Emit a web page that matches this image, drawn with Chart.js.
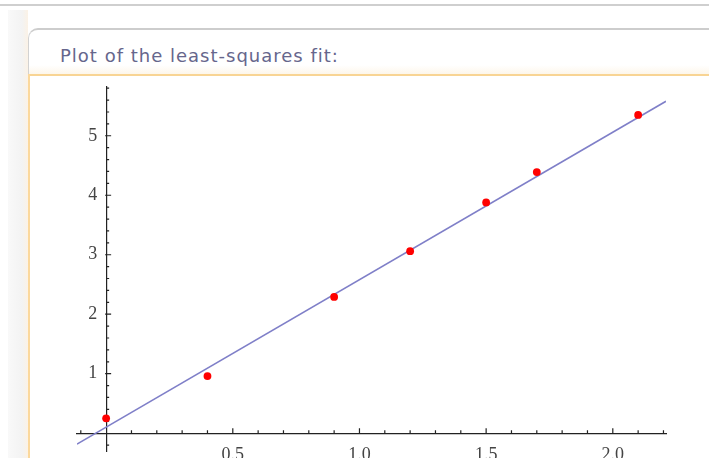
<!DOCTYPE html>
<html>
<head>
<meta charset="utf-8">
<script src="https://cdn.jsdelivr.net/npm/chart.js@4/dist/chart.umd.min.js"></script>
<style>
  html, body { margin: 0; padding: 0; background: #fff; }
  body { width: 709px; height: 458px; overflow: hidden; position: relative; }
  .topline { position: absolute; left: 0; top: 4px; width: 709px; height: 2px; background: #cfcfcf; }
  .strip { position: absolute; left: 8px; top: 10px; width: 20px; height: 470px;
           background: linear-gradient(to right, #f9f9f9, #f3f3f3 70%, #fbf2e6); }
  .head { position: absolute; left: 28px; top: 28px; width: 700px; height: 46px;
          border-top: 2px solid #cdcdcd; border-left: 1px solid #d2d2d2; border-top-left-radius: 10px;
          background: linear-gradient(to bottom, #ffffff 80%, #fdf6ea); box-sizing: border-box; }
  .orange { position: absolute; left: 28px; top: 74px; width: 700px; height: 2px; background: #f8d494; }
  .orangeLeft { position: absolute; left: 28px; top: 74px; width: 2px; height: 400px; background: #fbd89c; }
  .title { position: absolute; left: 60px; top: 45px; font-family: "DejaVu Sans", sans-serif;
           font-size: 18px; letter-spacing: 1px; color: #66668c; white-space: nowrap; }
  #wrap { position: absolute; left: 0; top: 0; width: 709px; height: 480px; }
</style>
</head>
<body>
<div class="topline"></div>
<div class="strip"></div>
<div class="head"></div>
<div class="orange"></div>
<div class="orangeLeft"></div>
<div class="title">Plot of the least-squares fit:</div>
<div id="wrap"><canvas id="c" width="709" height="480"></canvas></div>
<script>
// ---- data ----
const xValues = [0, 0.4, 0.9, 1.2, 1.5, 1.7, 2.1];
const yValues = [0.25, 0.96, 2.29, 3.06, 3.88, 4.39, 5.35];
const fitX = [-0.115, 2.21];
const fitY = [-0.185, 5.58];
const xTickLabels = ['0.5', '1.0', '1.5', '2.0'];
const yTickLabels = ['1', '2', '3', '4', '5'];
const xMinorTicks = [-0.1, 0.1, 0.2, 0.3, 0.4, 0.6, 0.7, 0.8, 0.9, 1.1, 1.2, 1.3, 1.4, 1.6, 1.7, 1.8, 1.9, 2.1, 2.2];
const yMinorTicks = [-0.2, 0.2, 0.4, 0.6, 0.8, 1.2, 1.4, 1.6, 1.8, 2.2, 2.4, 2.6, 2.8, 3.2, 3.4, 3.6, 3.8,
                     4.2, 4.4, 4.6, 4.8, 5.2, 5.4, 5.6, 5.8];

const points = xValues.map((x, i) => ({ x: x, y: yValues[i] }));
const fitLine = fitX.map((x, i) => ({ x: x, y: fitY[i] }));

function labelFor(list, value) {
  const s = list.find(l => Math.abs(parseFloat(l) - value) < 1e-6);
  return s === undefined ? '' : s;
}

const tickMarks = {
  id: 'tickMarks',
  beforeDatasetsDraw(chart) {
    const ctx = chart.ctx;
    const xs = chart.scales.x, ys = chart.scales.y;
    const x0 = xs.getPixelForValue(0), y0 = ys.getPixelForValue(0);
    ctx.save();
    ctx.strokeStyle = '#222';
    ctx.lineWidth = 1.2;
    ctx.beginPath();
    xTickLabels.forEach(l => { const p = xs.getPixelForValue(parseFloat(l)); ctx.moveTo(p, y0); ctx.lineTo(p, y0 - 5); });
    xMinorTicks.forEach(v => { const p = xs.getPixelForValue(v); ctx.moveTo(p, y0); ctx.lineTo(p, y0 - 3); });
    yTickLabels.forEach(l => { const p = ys.getPixelForValue(parseFloat(l)); ctx.moveTo(x0 - 1, p); ctx.lineTo(x0 + 5, p); });
    yMinorTicks.forEach(v => { const p = ys.getPixelForValue(v); ctx.moveTo(x0, p); ctx.lineTo(x0 + 3, p); });
    ctx.stroke();
    ctx.restore();
  }
};

new Chart(document.getElementById('c'), {
  type: 'scatter',
  data: {
    datasets: [
      { type: 'line', data: fitLine, borderColor: '#7f7fc8', borderWidth: 1.6, pointRadius: 0, fill: false, order: 2 },
      { type: 'scatter', data: points, backgroundColor: '#ff0000', borderColor: '#ff0000', pointRadius: 3.9, borderWidth: 0, order: 1 }
    ]
  },
  options: {
    responsive: false,
    animation: false,
    events: [],
    layout: { padding: { left: 77, right: 43, top: 87, bottom: 29 } },
    plugins: { legend: { display: false }, tooltip: { enabled: false }, title: { display: false } },
    scales: {
      x: {
        type: 'linear', min: -0.115, max: 2.21,
        position: { y: 0 },
        afterFit(scale) { scale.height = 0; },
        grid: { display: false, drawTicks: false },
        border: { display: true, color: '#222', width: 1.2 },
        ticks: {
          stepSize: 0.5, includeBounds: false, autoSkip: false, maxRotation: 0, padding: 11,
          color: '#444', font: { family: '"Liberation Serif", serif', size: 18 },
          callback: v => labelFor(xTickLabels, v)
        }
      },
      y: {
        type: 'linear', min: -0.3, max: 5.82,
        position: { x: 0 },
        afterFit(scale) { scale.width = 0; },
        grid: { display: false, drawTicks: false },
        border: { display: true, color: '#222', width: 1.2 },
        ticks: {
          stepSize: 1, includeBounds: false, autoSkip: false, padding: 9,
          color: '#444', font: { family: '"Liberation Serif", serif', size: 18 },
          callback: v => { const s = labelFor(yTickLabels, v); return s ? s + '\u2002' : ''; }
        }
      }
    }
  },
  plugins: [tickMarks]
});
</script>
</body>
</html>
